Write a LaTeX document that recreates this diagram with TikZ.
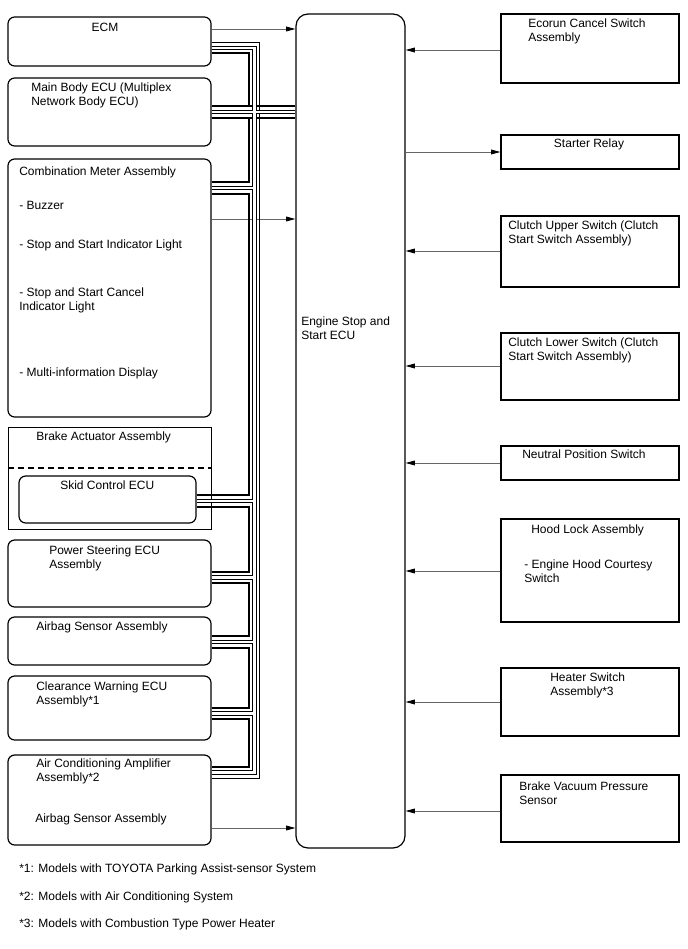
\documentclass[tikz,border=0pt]{standalone}
\usepackage{fontspec}
\setmainfont{Liberation Sans}
\usetikzlibrary{arrows.meta,fit}

\tikzset{
  ecubox/.style={draw, line width=0.9pt, rounded corners=5pt, inner sep=0pt},
  partbox/.style={draw, line width=0.9pt, inner sep=0pt},
  txt/.style={anchor=north west, inner sep=0pt, align=left, font=\fontsize{9}{10.5}\selectfont},
  sig/.style={draw=black!60, line width=0.6pt, -{Triangle[length=7pt,width=3.6pt,black]}},
  canh/.style={line width=2.2pt},
  canl/.style={double, line width=0.75pt, double distance=1.8pt},
}

\begin{document}
\begin{tikzpicture}[x=0.75pt,y=-0.75pt]
    \useasboundingbox (0,0) rectangle (688,949);

    % Left side ECUs
    \node[ecubox, fit={(8,17)(211,66)}] (ecm) {};
    \node[ecubox, fit={(8,78)(211,146)}] (mainbody) {};
    \node[ecubox, fit={(8,159)(211,417)}] (combmeter) {};
    \node[partbox, line width=0.7pt, fit={(8,427)(211,529)}] (brakeact) {};
    \node[ecubox, fit={(19,476)(196,523)}] (skid) {};
    \node[ecubox, fit={(8,540)(211,607)}] (pseps) {};
    \node[ecubox, fit={(8,617)(211,665)}] (airbag) {};
    \node[ecubox, fit={(8,676)(211,740)}] (clearance) {};
    \node[ecubox, fit={(8,755)(211,845)}] (acamp) {};
    \draw[line width=0.9pt, dash pattern=on 4.5pt off 3pt] (brakeact.west |- 0,468) -- (brakeact.east |- 0,468);

    \node[txt, anchor=north] (ecm-txt) at (105,22.5) {ECM};
    \node[txt] (mainbody-txt) at (31,82.5) {Main Body ECU (Multiplex\\Network Body ECU)};
    \node[txt] (combmeter-txt) at (19,166.5) {Combination Meter Assembly};
    \node[txt] (buzzer-txt) at (19,200.5) {- Buzzer};
    \node[txt] (ind-txt) at (19,239.5) {- Stop and Start Indicator Light};
    \node[txt] (cancelind-txt) at (19,287.5) {- Stop and Start Cancel\\Indicator Light};
    \node[txt] (mid-txt) at (19,367.5) {- Multi-information Display};
    \node[txt] (brakeact-txt) at (36,431.5) {Brake Actuator Assembly};
    \node[txt] (skid-txt) at (60,480.5) {Skid Control ECU};
    \node[txt] (pseps-txt) at (49,545.5) {Power Steering ECU\\Assembly};
    \node[txt] (airbag-txt) at (36,621.5) {Airbag Sensor Assembly};
    \node[txt] (clearance-txt) at (36,681.5) {Clearance Warning ECU\\Assembly*1};
    \node[txt] (acamp-txt) at (36,758.5) {Air Conditioning Amplifier\\Assembly*2};
    \node[txt] (acairbag-txt) at (35,813.5) {Airbag Sensor Assembly};

    % Engine stop and start ECU
    \node[ecubox, rounded corners=9pt, fit={(296,14)(405,848)}] (ses) {};
    \node[txt] (ses-txt) at (301,316.5) {Engine Stop and\\Start ECU};

    % Right side switches
    \node[partbox, fit={(501,14)(679,83)}] (ecorun) {};
    \node[partbox, fit={(501,135)(679,169)}] (starter) {};
    \node[partbox, fit={(501,216)(679,287)}] (clutchup) {};
    \node[partbox, fit={(501,333)(679,400)}] (clutchlo) {};
    \node[partbox, fit={(501,446)(679,480)}] (neutral) {};
    \node[partbox, fit={(501,519)(679,622)}] (hoodlock) {};
    \node[partbox, fit={(501,668)(679,736)}] (heater) {};
    \node[partbox, fit={(501,775)(679,842)}] (vacuum) {};

    \node[txt] (ecorun-txt) at (528,18.5) {Ecorun Cancel Switch\\Assembly};
    \node[txt, anchor=north] (starter-txt) at (589,138.5) {Starter Relay};
    \node[txt] (clutchup-txt) at (508,220.5) {Clutch Upper Switch (Clutch\\Start Switch Assembly)};
    \node[txt] (clutchlo-txt) at (508,337.5) {Clutch Lower Switch (Clutch\\Start Switch Assembly)};
    \node[txt] (neutral-txt) at (522,449.5) {Neutral Position Switch};
    \node[txt] (hoodlock-txt) at (531,524.5) {Hood Lock Assembly};
    \node[txt] (courtesy-txt) at (524,559.5) {- Engine Hood Courtesy\\Switch};
    \node[txt] (heater-txt) at (550,672.5) {Heater Switch\\Assembly*3};
    \node[txt] (vacuum-txt) at (519,781.5) {Brake Vacuum Pressure\\Sensor};

    % Notes
    \node[txt] (note1) at (19,863.5) {*1: Models with TOYOTA Parking Assist-sensor System};
    \node[txt] (note2) at (19,891.5) {*2: Models with Air Conditioning System};
    \node[txt] (note3) at (19,918.5) {*3: Models with Combustion Type Power Heater};

    % Signal lines
    \draw[sig] (ecm.east |- 0,29) -- (ses.west |- 0,29);
    \draw[sig] (combmeter.east |- 0,219) -- (ses.west |- 0,219);
    \draw[sig] (acamp.east |- 0,828) -- (ses.west |- 0,828);
    \draw[sig] (ses.east |- 0,152) -- (starter.west |- 0,152);
    \draw[sig] (ecorun.west |- 0,50) -- (ses.east |- 0,50);
    \draw[sig] (clutchup.west |- 0,251) -- (ses.east |- 0,251);
    \draw[sig] (clutchlo.west |- 0,366) -- (ses.east |- 0,366);
    \draw[sig] (neutral.west |- 0,463) -- (ses.east |- 0,463);
    \draw[sig] (hoodlock.west |- 0,571) -- (ses.east |- 0,571);
    \draw[sig] (heater.west |- 0,702) -- (ses.east |- 0,702);
    \draw[sig] (vacuum.west |- 0,811) -- (ses.east |- 0,811);

    % CAN bus
    \draw[canh]
        (ecm.east |- 0,53) -| (249,106) -- (mainbody.east |- 0,106)
        (mainbody.east |- 0,106) -- (ses.west |- 0,106)
        (mainbody.east |- 0,118) -- (ses.west |- 0,118)
        (249,118) |- (combmeter.east |- 0,182)
        (combmeter.east |- 0,194) -| (249,495) -- (skid.east |- 0,495)
        (skid.east |- 0,507) -| (249,572) -- (pseps.east |- 0,572)
        (pseps.east |- 0,583) -| (249,636) -- (airbag.east |- 0,636)
        (airbag.east |- 0,648) -| (249,708) -- (clearance.east |- 0,708)
        (clearance.east |- 0,719) -| (249,767) -- (acamp.east |- 0,767);
    \draw[line width=0.75pt] (ecm.east |- 0,43) -| (259.5,778) -- (acamp.east |- 0,778);
    \draw[canl]
        (ecm.east |- 0,48) -| (254.5,772.5) -- (acamp.east |- 0,772.5)
        (mainbody.east |- 0,112) -- (ses.west |- 0,112)
        (combmeter.east |- 0,188) -- (254.5,188)
        (skid.east |- 0,501) -- (254.5,501)
        (pseps.east |- 0,577.5) -- (254.5,577.5)
        (airbag.east |- 0,642) -- (254.5,642)
        (clearance.east |- 0,713.5) -- (254.5,713.5);
\end{tikzpicture}
\end{document}
